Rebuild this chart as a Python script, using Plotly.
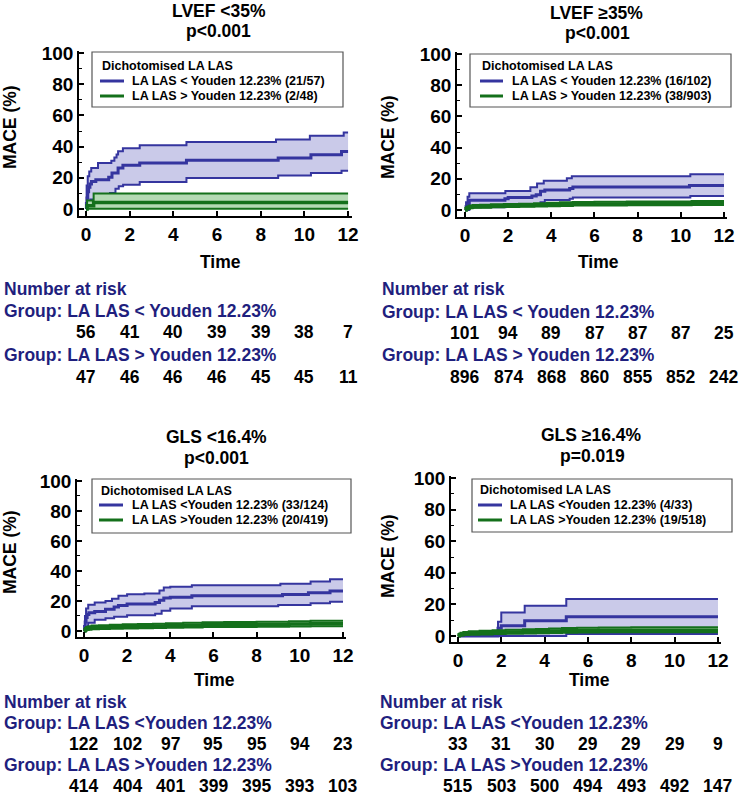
import plotly.graph_objects as go

FONT = "Liberation Sans, Arial, sans-serif"
BLUE = "#35359f"
BLUE_FILL = "#cacae9"
GREEN = "#14701b"
GREEN_FILL = "#b4dab4"
NAVY = "#1f1f7e"

TIME_TICKS = [0, 2, 4, 6, 8, 10, 12]
MACE_TICKS = [0, 20, 40, 60, 80, 100]

PANEL_TITLES = ["LVEF &lt;35%", "LVEF ≥35%", "GLS &lt;16.4%", "GLS ≥16.4%"]
P_VALUES = ["p&lt;0.001", "p&lt;0.001", "p&lt;0.001", "p=0.019"]
LEGEND_TITLE = "Dichotomised LA LAS"
LOW_LABELS = ["LA LAS &lt; Youden 12.23% (21/57)", "LA LAS &lt; Youden 12.23% (16/102)",
              "LA LAS &lt;Youden 12.23% (33/124)", "LA LAS &lt;Youden 12.23% (4/33)"]
HIGH_LABELS = ["LA LAS &gt; Youden 12.23% (2/48)", "LA LAS &gt; Youden 12.23% (38/903)",
               "LA LAS &gt;Youden 12.23% (20/419)", "LA LAS &gt;Youden 12.23% (19/518)"]
RISK_LOW_GROUP = ["Group: LA LAS &lt; Youden 12.23%", "Group: LA LAS &lt; Youden 12.23%",
                  "Group: LA LAS &lt;Youden 12.23%", "Group: LA LAS &lt;Youden 12.23%"]
RISK_HIGH_GROUP = ["Group: LA LAS &gt; Youden 12.23%", "Group: LA LAS &gt; Youden 12.23%",
                   "Group: LA LAS &gt;Youden 12.23%", "Group: LA LAS &gt;Youden 12.23%"]
RISK_TIMES = [0, 2, 4, 6, 8, 10, 12]
RISK_LOW_1 = [56, 41, 40, 39, 39, 38, 7]
RISK_HIGH_1 = [47, 46, 46, 46, 45, 45, 11]
RISK_LOW_2 = [101, 94, 89, 87, 87, 87, 25]
RISK_HIGH_2 = [896, 874, 868, 860, 855, 852, 242]
RISK_LOW_3 = [122, 102, 97, 95, 95, 94, 23]
RISK_HIGH_3 = [414, 404, 401, 399, 395, 393, 103]
RISK_LOW_4 = [33, 31, 30, 29, 29, 29, 9]
RISK_HIGH_4 = [515, 503, 500, 494, 493, 492, 147]

# ---- Panel 1: LVEF <35% ----
P1_BLUE_EST_T = [0, 0.02, 0.05, 0.08, 0.12, 0.18, 0.25, 0.45, 1.04, 1.19, 1.47, 1.69, 2.46, 4.6, 8.8, 10.3, 11.7, 12]
P1_BLUE_EST = [0, 3.5, 7, 11, 14, 16, 17.7, 18.8, 20.3, 23, 26.3, 28, 29.5, 31.2, 32.7, 34.8, 36.8, 36.8]
P1_BLUE_UP_T = [0, 0.03, 0.08, 0.15, 0.24, 0.55, 1.16, 1.3, 1.4, 1.47, 1.69, 2.46, 4.6, 8.7, 10.25, 11.8, 12]
P1_BLUE_UP = [0, 15, 21, 24, 26.3, 29.5, 31, 33, 35, 37, 39, 40.8, 43, 44.6, 47, 49, 49]
P1_BLUE_LO_T = [0, 0.05, 0.1, 0.2, 0.5, 1.1, 1.35, 1.5, 1.7, 2.46, 4.6, 8.8, 10.3, 11.7, 12]
P1_BLUE_LO = [0, 1, 3, 6, 8.8, 10.2, 13, 14.5, 15.6, 17.3, 19.9, 21.5, 23, 24.5, 24.5]
P1_GREEN_EST_T = [0, 0.05, 0.35, 12]
P1_GREEN_EST = [0, 2.1, 4.2, 4.2]
P1_GREEN_UP_T = [0, 0.05, 0.35, 12]
P1_GREEN_UP = [0, 5.5, 10, 10]
P1_GREEN_LO_T = [0, 0.05, 12]
P1_GREEN_LO = [0, 0.2, 0.2]

# ---- Panel 2: LVEF >=35% ----
P2_BLUE_EST_T = [0, 0.05, 0.12, 0.2, 1.85, 2.0, 3.1, 3.3, 3.5, 3.7, 4.85, 5.0, 10.4, 12]
P2_BLUE_EST = [0, 2, 4, 6.3, 7.2, 8.0, 9.0, 9.8, 12.0, 12.8, 13.7, 14.8, 15.7, 15.7]
P2_BLUE_UP_T = [0, 0.05, 0.12, 0.2, 1.87, 3.03, 3.34, 3.65, 4.72, 4.95, 10.44, 12]
P2_BLUE_UP = [0, 5, 8.5, 10.7, 12.2, 14.5, 17, 18.8, 20.3, 21.6, 22.9, 22.9]
P2_BLUE_LO_T = [0, 0.2, 1.87, 3.1, 3.5, 3.7, 4.85, 5.0, 10.44, 12]
P2_BLUE_LO = [0, 1.7, 2.6, 3.6, 5.0, 6.4, 7.2, 8.0, 9.0, 9.0]
P2_GREEN_T = [0, 0.05, 0.1, 0.2, 0.35, 0.7, 1.2, 1.8, 2.5, 3.2, 3.8, 4.4, 5.0, 6.0, 7.5, 9.0, 10.5, 12]
P2_GREEN_EST = [0, 0.8, 1.3, 1.8, 2.1, 2.3, 2.5, 2.7, 2.9, 3.1, 3.4, 3.6, 3.8, 3.9, 4.0, 4.1, 4.2, 4.2]
P2_GREEN_UP = [0, 1.6, 2.2, 2.8, 3.2, 3.4, 3.6, 3.8, 4.0, 4.3, 4.6, 4.9, 5.1, 5.2, 5.4, 5.5, 5.7, 5.7]
P2_GREEN_LO = [0, 0.3, 0.7, 1.1, 1.4, 1.5, 1.7, 1.9, 2.0, 2.2, 2.4, 2.6, 2.8, 2.9, 3.0, 3.1, 3.2, 3.2]

# ---- Panel 3: GLS <16.4% ----
P3_BLUE_EST_T = [0, 0.03, 0.06, 0.1, 0.15, 0.23, 0.5, 1.0, 1.4, 1.6, 2.0, 3.3, 3.5, 3.7, 4.0, 5.0, 9.2, 10.4, 11.4, 12]
P3_BLUE_EST = [0, 3, 6, 9, 11, 12.2, 13, 14.5, 16, 17, 18, 19, 20.5, 22, 22.5, 23.5, 24.3, 25.5, 26.6, 26.6]
P3_BLUE_UP_T = [0, 0.05, 0.1, 0.2, 0.5, 1.0, 1.3, 1.6, 2.0, 2.8, 3.5, 3.7, 4.0, 5.0, 9.1, 10.5, 11.4, 12]
P3_BLUE_UP = [0, 10, 15, 17.5, 19, 20, 21.5, 23.5, 24.5, 25, 27, 29, 29.5, 30.5, 31.5, 33, 34.5, 34.5]
P3_BLUE_LO_T = [0, 0.1, 0.2, 0.5, 1.0, 1.4, 2.0, 3.3, 3.6, 4.0, 5.0, 9.0, 10.5, 11.4, 12]
P3_BLUE_LO = [0, 3, 5.5, 7.5, 8.5, 9.5, 10.5, 11.5, 13.5, 15, 16.5, 17.3, 18.5, 19.5, 19.5]
P3_GREEN_T = [0, 0.05, 0.1, 0.2, 0.35, 0.7, 1.2, 1.8, 2.5, 3.2, 3.8, 4.6, 5.5, 6.5, 8.0, 9.5, 10.5, 12]
P3_GREEN_EST = [0, 0.8, 1.4, 1.9, 2.2, 2.5, 2.8, 3.0, 3.2, 3.4, 3.6, 3.9, 4.1, 4.2, 4.4, 4.6, 4.8, 4.8]
P3_GREEN_UP = [0, 1.8, 2.6, 3.2, 3.6, 3.9, 4.2, 4.5, 4.7, 4.9, 5.2, 5.5, 5.8, 6.0, 6.2, 6.5, 6.8, 6.8]
P3_GREEN_LO = [0, 0.2, 0.6, 0.9, 1.1, 1.3, 1.5, 1.7, 1.8, 2.0, 2.2, 2.4, 2.6, 2.7, 2.8, 3.0, 3.2, 3.2]

# ---- Panel 4: GLS >=16.4% ----
P4_BLUE_EST_T = [0, 1.85, 2.0, 3.08, 5.0, 12]
P4_BLUE_EST = [0, 4.9, 6.5, 9.7, 12.2, 12.2]
P4_BLUE_UP_T = [0, 1.85, 2.0, 3.08, 5.0, 12]
P4_BLUE_UP = [0, 9.1, 14.8, 19.2, 23.4, 23.4]
P4_BLUE_LO_T = [0, 5.0, 12]
P4_BLUE_LO = [0, 1.3, 1.3]
P4_GREEN_T = [0, 0.05, 0.12, 0.25, 0.5, 1.0, 1.6, 2.2, 3.0, 3.6, 4.2, 4.8, 5.5, 6.5, 8.0, 12]
P4_GREEN_EST = [0, 0.6, 1.0, 1.4, 1.7, 2.0, 2.2, 2.5, 2.7, 3.0, 3.2, 3.4, 3.5, 3.6, 3.7, 3.7]
P4_GREEN_UP = [0, 1.4, 2.0, 2.6, 3.0, 3.3, 3.6, 3.9, 4.2, 4.5, 4.8, 5.0, 5.2, 5.4, 5.6, 5.6]
P4_GREEN_LO = [0, 0.1, 0.3, 0.6, 0.8, 1.0, 1.2, 1.4, 1.6, 1.8, 1.9, 2.1, 2.2, 2.3, 2.4, 2.4]

W, H = 740, 799


def fx(px):
    return px / W


def fy(py):
    return 1 - py / H


# layout geometry per panel: pixel box (left, right, top, bottom), x range, y range
PANEL_BOX = [(79, 352, 51, 216), (457, 727, 52, 217), (77, 346, 479, 637), (451, 721, 476, 642)]
X_RANGES = [[-0.32, 12.18], [-0.37, 12.14], [-0.32, 12.14], [-0.32, 12.14]]
Y_RANGES = [[-4.5, 101.3], [-4.5, 101.3], [-4.0, 101.3], [-3.8, 101.3]]
TITLE_POS = [((219, 11), (219, 31)), ((596, 13), (597, 33)), ((216, 437), (216, 458)), ((591, 435), (592, 456))]
TIME_POS = [(220, 262), (598, 262), (215, 680), (589, 680)]
YTITLE_POS = [(10, 127), (388, 137), (10, 552), (388, 556)]
# legend box: (left, right, top, bottom, title_y, row1_y, row2_y, sample_x0, sample_x1, text_x)
LEGEND_BOX = [(92, 343, 52, 107, 66, 81, 96, 100, 124, 130),
              (470, 731, 54, 107, 66, 81, 96, 480, 503, 510),
              (92, 351, 479, 533, 491, 505, 520, 99, 123, 130),
              (472, 732, 479, 532, 490, 505, 520, 478, 502, 508)]
RISK_LEFT = [2, 380, 2, 378]
RISK_ROWS = [[289, 311, 332, 355, 377], [289, 312, 333, 355, 377],
             [702, 723, 744, 765, 786], [702, 723, 744, 765, 786]]

panels = [
    dict(blue=((P1_BLUE_EST_T, P1_BLUE_EST), (P1_BLUE_UP_T, P1_BLUE_UP), (P1_BLUE_LO_T, P1_BLUE_LO)),
         green=((P1_GREEN_EST_T, P1_GREEN_EST), (P1_GREEN_UP_T, P1_GREEN_UP), (P1_GREEN_LO_T, P1_GREEN_LO)),
         risk=(RISK_LOW_1, RISK_HIGH_1)),
    dict(blue=((P2_BLUE_EST_T, P2_BLUE_EST), (P2_BLUE_UP_T, P2_BLUE_UP), (P2_BLUE_LO_T, P2_BLUE_LO)),
         green=((P2_GREEN_T, P2_GREEN_EST), (P2_GREEN_T, P2_GREEN_UP), (P2_GREEN_T, P2_GREEN_LO)),
         risk=(RISK_LOW_2, RISK_HIGH_2)),
    dict(blue=((P3_BLUE_EST_T, P3_BLUE_EST), (P3_BLUE_UP_T, P3_BLUE_UP), (P3_BLUE_LO_T, P3_BLUE_LO)),
         green=((P3_GREEN_T, P3_GREEN_EST), (P3_GREEN_T, P3_GREEN_UP), (P3_GREEN_T, P3_GREEN_LO)),
         risk=(RISK_LOW_3, RISK_HIGH_3)),
    dict(blue=((P4_BLUE_EST_T, P4_BLUE_EST), (P4_BLUE_UP_T, P4_BLUE_UP), (P4_BLUE_LO_T, P4_BLUE_LO)),
         green=((P4_GREEN_T, P4_GREEN_EST), (P4_GREEN_T, P4_GREEN_UP), (P4_GREEN_T, P4_GREEN_LO)),
         risk=(RISK_LOW_4, RISK_HIGH_4)),
]

fig = go.Figure()
annotations = []
shapes = []
layout = {}

for i, p in enumerate(panels):
    n = i + 1
    xa = "x" if n == 1 else f"x{n}"
    ya = "y" if n == 1 else f"y{n}"
    for key, color, fill, label, est_w in (("blue", BLUE, BLUE_FILL, LOW_LABELS[i], 3),
                                           ("green", GREEN, GREEN_FILL, HIGH_LABELS[i], 3.5)):
        (te, ve), (tu, vu), (tl, vl) = p[key]
        fig.add_trace(go.Scatter(x=tu, y=vu, mode="lines", line=dict(color=color, width=2, shape="hv"),
                                 xaxis=xa, yaxis=ya, showlegend=False, hoverinfo="skip"))
        fig.add_trace(go.Scatter(x=tl, y=vl, mode="lines", line=dict(color=color, width=2, shape="hv"),
                                 fill="tonexty", fillcolor=fill,
                                 xaxis=xa, yaxis=ya, showlegend=False, hoverinfo="skip"))
        fig.add_trace(go.Scatter(x=te, y=ve, mode="lines", name=label,
                                 line=dict(color=color, width=est_w, shape="hv"),
                                 xaxis=xa, yaxis=ya, showlegend=False))

    l, r, t, b = PANEL_BOX[i]
    axfont = dict(family=FONT, size=19, color="black", weight="bold")
    layout["xaxis" if n == 1 else f"xaxis{n}"] = dict(
        domain=[fx(l), fx(r)], range=X_RANGES[i], anchor=ya, automargin=False,
        tickvals=TIME_TICKS, ticks="inside", ticklen=5, tickwidth=1.5, tickcolor="black",
        showline=True, linecolor="black", linewidth=1.5, showgrid=False, zeroline=False,
        tickfont=axfont, fixedrange=True)
    layout["yaxis" if n == 1 else f"yaxis{n}"] = dict(
        domain=[fy(b), fy(t)], range=Y_RANGES[i], anchor=xa, automargin=False,
        tickvals=MACE_TICKS, ticks="inside", ticklen=5, tickwidth=1.5, tickcolor="black",
        minor=dict(dtick=10, tick0=0, ticks="inside", ticklen=3, tickwidth=1, tickcolor="black"),
        showline=True, linecolor="black", linewidth=1.5, showgrid=False, zeroline=False,
        tickfont=axfont, fixedrange=True)

    # legend box drawn in paper space
    bl, br, bt, bb, ty0, ry1, ry2, sx0, sx1, txx = LEGEND_BOX[i]
    shapes.append(dict(type="rect", xref="paper", yref="paper", x0=fx(bl), x1=fx(br), y0=fy(bb), y1=fy(bt),
                       line=dict(color="#555555", width=1.2), fillcolor="white", layer="above"))
    lfont = dict(family=FONT, size=12.5, color="black", weight="bold")
    annotations.append(dict(text=LEGEND_TITLE, x=fx(sx0), y=fy(ty0), xref="paper", yref="paper",
                            showarrow=False, font=lfont, xanchor="left", yanchor="middle"))
    for color, label, ry in ((BLUE, LOW_LABELS[i], ry1), (GREEN, HIGH_LABELS[i], ry2)):
        shapes.append(dict(type="line", xref="paper", yref="paper", x0=fx(sx0), x1=fx(sx1),
                           y0=fy(ry), y1=fy(ry), line=dict(color=color, width=3), layer="above"))
        annotations.append(dict(text=label, x=fx(txx), y=fy(ry), xref="paper", yref="paper",
                                showarrow=False, font=lfont, xanchor="left", yanchor="middle"))

    (t1x, t1y), (t2x, t2y) = TITLE_POS[i]
    tfont = dict(family=FONT, size=17.5, color="black", weight="bold")
    annotations.append(dict(text=PANEL_TITLES[i], x=fx(t1x), y=fy(t1y), xref="paper", yref="paper",
                            showarrow=False, font=tfont, xanchor="center", yanchor="middle"))
    annotations.append(dict(text=P_VALUES[i], x=fx(t2x), y=fy(t2y), xref="paper", yref="paper",
                            showarrow=False, font=tfont, xanchor="center", yanchor="middle"))
    tx, tyy = TIME_POS[i]
    annotations.append(dict(text="Time", x=fx(tx), y=fy(tyy), xref="paper", yref="paper",
                            showarrow=False, font=tfont, xanchor="center", yanchor="middle"))
    mx, my = YTITLE_POS[i]
    annotations.append(dict(text="MACE (%)", x=fx(mx), y=fy(my), xref="paper", yref="paper",
                            showarrow=False, font=tfont, textangle=-90, xanchor="center", yanchor="middle"))

    rows = RISK_ROWS[i]
    rfont = dict(family=FONT, size=17.5, color=NAVY, weight="bold")
    nfont = dict(family=FONT, size=17.5, color="black", weight="bold")
    for txt, ry in (("Number at risk", rows[0]), (RISK_LOW_GROUP[i], rows[1]), (RISK_HIGH_GROUP[i], rows[3])):
        annotations.append(dict(text=txt, x=fx(RISK_LEFT[i]), y=fy(ry), xref="paper", yref="paper",
                                showarrow=False, font=rfont, xanchor="left", yanchor="middle"))
    low, high = p["risk"]
    for vals, ry in ((low, rows[2]), (high, rows[4])):
        for tval, v in zip(RISK_TIMES, vals):
            annotations.append(dict(text=str(v), x=tval, y=fy(ry), xref=xa, yref="paper",
                                    showarrow=False, font=nfont, xanchor="center", yanchor="middle"))

fig.update_layout(width=W, height=H, margin=dict(l=0, r=0, t=0, b=0, autoexpand=False), autosize=False,
                  showlegend=False, paper_bgcolor="white", plot_bgcolor="white",
                  annotations=annotations, shapes=shapes, **layout)
fig.write_html("out.html", config={"displayModeBar": False},
               post_script="document.body.style.margin='0px';document.body.style.overflow='hidden';")
